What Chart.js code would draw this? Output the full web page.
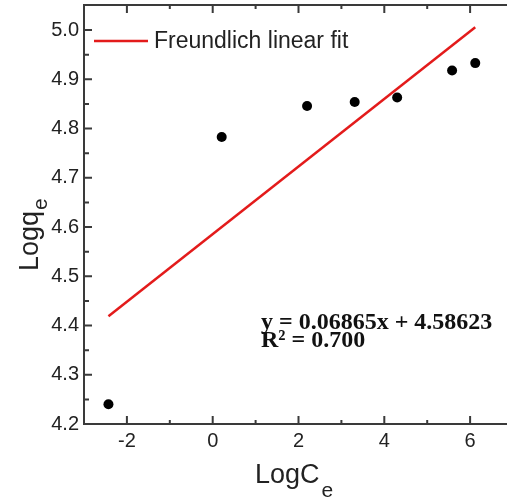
<!DOCTYPE html>
<html>
<head>
<meta charset="utf-8">
<script src="https://cdn.jsdelivr.net/npm/chart.js@4"></script>
<style>
  html, body { margin: 0; padding: 0; background: #fff; }
  #wrap { width: 507px; height: 499px; position: relative; }
</style>
</head>
<body>
<div id="wrap"><canvas id="c"></canvas></div>
<script>
// data
const logC  = [-2.43, 0.21, 2.20, 3.31, 4.30, 5.58, 6.12]
const logQ  = [4.240, 4.783, 4.846, 4.854, 4.863, 4.918, 4.933]
const fitX  = [-2.43, 6.12]
const fitY  = [4.419, 5.006]
const xTicks = [-2, 0, 2, 4, 6]
const yTicks = [4.2, 4.3, 4.4, 4.5, 4.6, 4.7, 4.8, 4.9, 5.0]

const AXIS = '#3a3a3a'
const TEXT = '#222'
const RED  = '#e31b1b'
const SANS = '"Liberation Sans", Arial, sans-serif'

// chart.js pads the axes for half a label; the frame here has to sit flush
const noPad = s => { s.paddingTop = 0; s.paddingBottom = 0; s.paddingLeft = 0; s.paddingRight = 0 }

const framePlugin = {
  id: 'frame',
  afterDraw(chart) {
    const { ctx, chartArea: a, scales: { x, y } } = chart
    ctx.save()
    ctx.strokeStyle = AXIS
    ctx.lineWidth = 2
    ctx.beginPath()
    ctx.moveTo(a.left, a.top); ctx.lineTo(a.left, a.bottom)
    ctx.moveTo(a.left - 1, a.bottom); ctx.lineTo(a.right, a.bottom)
    ctx.moveTo(a.left - 1, a.top); ctx.lineTo(a.right, a.top)

    // inward ticks, majors + minors
    xTicks.forEach(v => {
      const px = x.getPixelForValue(v)
      ctx.moveTo(px, a.bottom); ctx.lineTo(px, a.bottom - 8)
      ctx.moveTo(px, a.top); ctx.lineTo(px, a.top + 8)
    })
    xTicks.forEach(v => {
      const px = x.getPixelForValue(v + 1)
      if (px > a.right) return
      ctx.moveTo(px, a.bottom); ctx.lineTo(px, a.bottom - 4)
      ctx.moveTo(px, a.top); ctx.lineTo(px, a.top + 4)
    })
    yTicks.forEach(v => {
      const py = y.getPixelForValue(v)
      ctx.moveTo(a.left, py); ctx.lineTo(a.left + 8, py)
      const pm = y.getPixelForValue(v + 0.05)
      if (pm > a.top + 2) { ctx.moveTo(a.left, pm); ctx.lineTo(a.left + 5, pm) }
    })
    ctx.stroke()

    // legend inside the frame
    ctx.strokeStyle = RED
    ctx.lineWidth = 2.5
    ctx.beginPath()
    ctx.moveTo(94, 41); ctx.lineTo(148, 41)
    ctx.stroke()
    ctx.fillStyle = TEXT
    ctx.textBaseline = 'alphabetic'
    ctx.textAlign = 'left'
    ctx.font = '23px ' + SANS
    ctx.fillText(chart.data.datasets[1].label, 154, 48)

    // fit equation
    ctx.fillStyle = '#111'
    ctx.font = 'bold 24px "Liberation Serif", "Times New Roman", serif'
    ctx.fillText('y = 0.06865x + 4.58623', 261, 329)
    ctx.fillText('R\u00B2 = 0.700', 261, 347)

    // axis titles with subscripts
    ctx.fillStyle = TEXT
    ctx.font = '27px ' + SANS
    ctx.fillText('LogC', 255, 483)
    let w = ctx.measureText('LogC').width
    ctx.font = '21px ' + SANS
    ctx.fillText('e', 255 + w + 2, 497)

    ctx.translate(38, 271)
    ctx.rotate(-Math.PI / 2)
    ctx.font = '27px ' + SANS
    ctx.fillText('Logq', 0, 0)
    w = ctx.measureText('Logq').width
    ctx.font = '21px ' + SANS
    ctx.fillText('e', w + 1, 9)
    ctx.restore()
  }
}

new Chart(document.getElementById('c'), {
  type: 'scatter',
  data: {
    datasets: [
      {
        label: 'data',
        data: logC.map((v, i) => ({ x: v, y: logQ[i] })),
        pointRadius: 5,
        pointBackgroundColor: '#000',
        pointBorderWidth: 0,
        showLine: false,
      },
      {
        label: 'Freundlich linear fit',
        data: fitX.map((v, i) => ({ x: v, y: fitY[i] })),
        showLine: true,
        borderColor: RED,
        borderWidth: 2.5,
        pointRadius: 0,
      },
    ],
  },
  options: {
    responsive: true,
    maintainAspectRatio: false,
    animation: false,
    layout: { autoPadding: false, padding: { top: 5, right: 0, left: 0, bottom: 0 } },
    plugins: {
      legend: { display: false },
      tooltip: { enabled: false },
    },
    scales: {
      x: {
        type: 'linear',
        min: -3,
        max: 6.86,
        grid: { display: false, drawTicks: false },
        border: { display: false },
        afterBuildTicks: s => { s.ticks = xTicks.map(v => ({ value: v })) },
        afterFit: s => { s.height = 75; noPad(s) },
        ticks: {
          color: TEXT,
          padding: 5,
          maxRotation: 0,
          font: { family: SANS, size: 20 },
          callback: v => String(v),
        },
      },
      y: {
        min: 4.2,
        max: 5.051,
        grid: { display: false, drawTicks: false },
        border: { display: false },
        afterBuildTicks: s => { s.ticks = yTicks.map(v => ({ value: v })) },
        afterFit: s => { s.width = 84; noPad(s) },
        ticks: {
          color: TEXT,
          padding: 5,
          font: { family: SANS, size: 20 },
          callback: v => v.toFixed(1),
        },
      },
    },
  },
  plugins: [framePlugin],
})
</script>
</body>
</html>
